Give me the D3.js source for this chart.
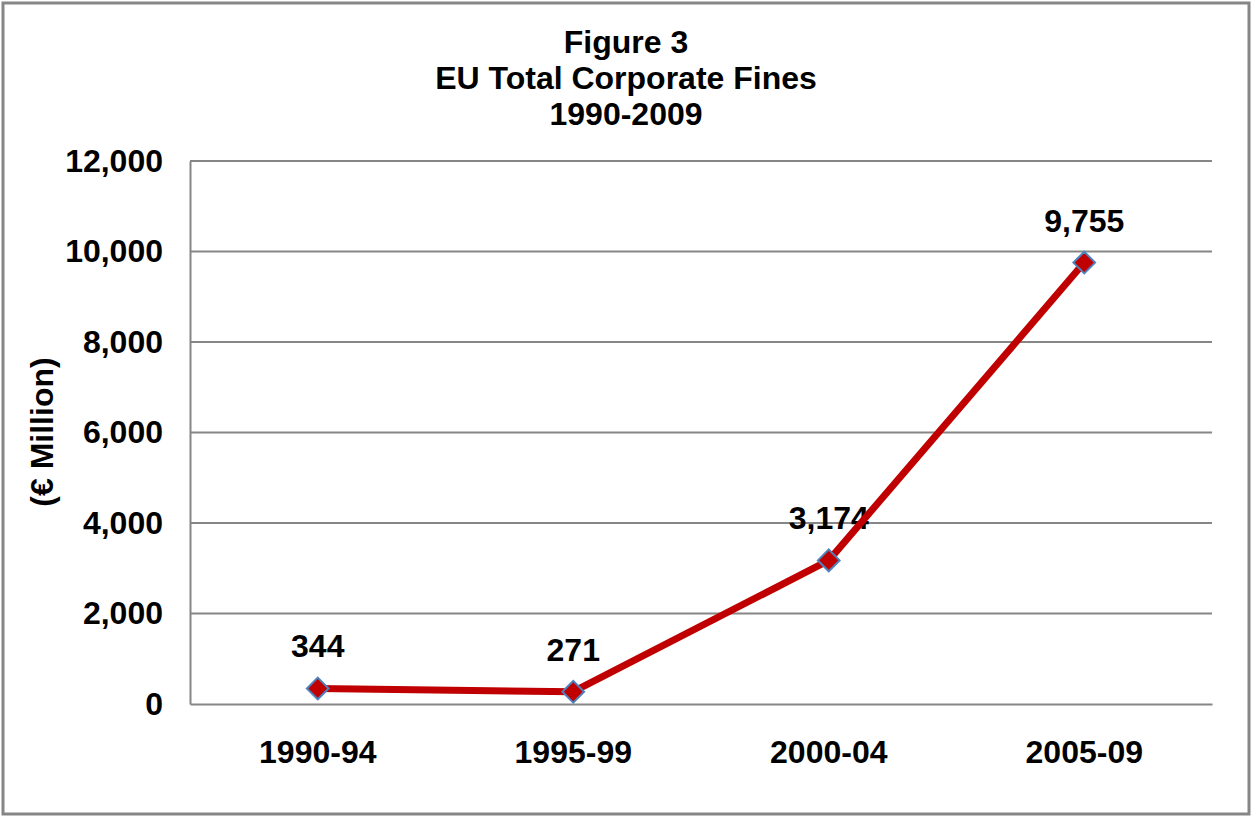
<!DOCTYPE html>
<html>
<head>
<meta charset="utf-8">
<script src="https://cdn.jsdelivr.net/npm/d3@7"></script>
<style>
  body { margin: 0; background: #fff; }
  text { font-family: "Liberation Sans", Arial, sans-serif; font-weight: bold; fill: #000; }
</style>
</head>
<body>
<script>
// chart values
var periods = ['1990-94', '1995-99', '2000-04', '2005-09'];
var fines = [344, 271, 3174, 9755];
var yTicks = [0, 2000, 4000, 6000, 8000, 10000, 12000];
var titleLines = ['Figure 3', 'EU Total Corporate Fines', '1990-2009'];

var W = 1252, H = 817;
var m = { left: 190, right: 40, top: 161, bottom: 113 };
var fs = '32px';

var svg = d3.select('body').append('svg')
  .attr('width', W)
  .attr('height', H);

// outer frame
svg.append('rect')
  .attr('x', 3).attr('y', 3)
  .attr('width', W - 6).attr('height', H - 6)
  .attr('fill', '#fff')
  .attr('stroke', '#868686')
  .attr('stroke-width', 3);

var x = d3.scaleBand().domain(periods).range([m.left, W - m.right]);
var y = d3.scaleLinear().domain([0, 12000]).range([H - m.bottom, m.top]);

// gridlines
svg.selectAll('line.grid').data(yTicks.slice(1)).enter().append('line')
  .attr('class', 'grid')
  .attr('x1', m.left).attr('x2', W - m.right)
  .attr('y1', function(d) { return y(d); })
  .attr('y2', function(d) { return y(d); })
  .attr('stroke', '#868686')
  .attr('stroke-width', 2);

// y axis
var yAxis = svg.append('g')
  .attr('transform', 'translate(' + m.left + ',0)')
  .call(d3.axisLeft(y).tickValues(yTicks).tickSize(0).tickPadding(27).tickFormat(d3.format(',')));
yAxis.select('.domain').attr('stroke', '#868686').attr('stroke-width', 2);
yAxis.selectAll('text').style('font-size', fs).attr('fill', '#000');

// x axis
var xAxis = svg.append('g')
  .attr('transform', 'translate(0,' + (H - m.bottom) + ')')
  .call(d3.axisBottom(x).tickSize(0).tickPadding(36));
xAxis.select('.domain').attr('stroke', '#868686').attr('stroke-width', 2);
xAxis.selectAll('text').style('font-size', fs).attr('fill', '#000');

// title
svg.append('text')
  .attr('x', 626).attr('y', 53)
  .attr('text-anchor', 'middle')
  .style('font-size', fs)
  .selectAll('tspan').data(titleLines).enter().append('tspan')
  .attr('x', 626)
  .attr('dy', function(d, i) { return i === 0 ? 0 : 36; })
  .text(function(d) { return d; });

// y axis title
svg.append('text')
  .attr('transform', 'translate(53,432) rotate(-90)')
  .attr('text-anchor', 'middle')
  .style('font-size', fs)
  .text('(€ Million)');

var pts = periods.map(function(p, i) {
  return { p: p, v: fines[i] };
});

// data labels (drawn below the line)
svg.selectAll('text.lbl').data(pts).enter().append('text')
  .attr('class', 'lbl')
  .attr('x', function(d) { return x(d.p) + x.bandwidth() / 2; })
  .attr('y', function(d) { return y(d.v) - 31; })
  .attr('text-anchor', 'middle')
  .style('font-size', fs)
  .text(function(d) { return d3.format(',')(d.v); });

var line = d3.line()
  .x(function(d) { return x(d.p) + x.bandwidth() / 2; })
  .y(function(d) { return y(d.v); });

svg.append('path')
  .datum(pts)
  .attr('d', line)
  .attr('fill', 'none')
  .attr('stroke', '#C00000')
  .attr('stroke-width', 7)
  .attr('stroke-linejoin', 'round');

svg.selectAll('path.mk').data(pts).enter().append('path')
  .attr('class', 'mk')
  .attr('d', d3.symbol().type(d3.symbolDiamond2).size(300))
  .attr('transform', function(d) {
    return 'translate(' + (x(d.p) + x.bandwidth() / 2) + ',' + y(d.v) + ')';
  })
  .attr('fill', '#C00000')
  .attr('stroke', '#4F81BD')
  .attr('stroke-width', 2);
</script>
</body>
</html>
